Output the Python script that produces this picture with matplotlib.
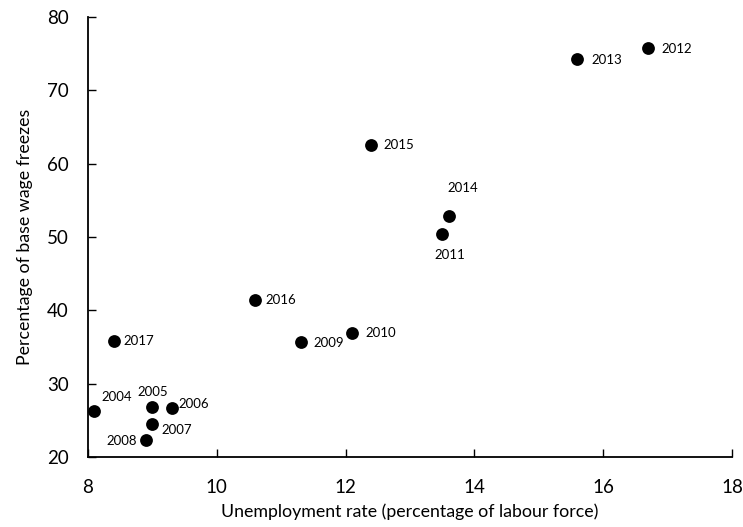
import matplotlib
matplotlib.use("Agg")
import matplotlib.pyplot as plt

years = ["2004", "2005", "2006", "2007", "2008", "2009", "2010", "2011",
         "2012", "2013", "2014", "2015", "2016", "2017"]
unemployment = [8.1, 9.0, 9.3, 9.0, 8.9, 11.3, 12.1, 13.5,
                16.7, 15.6, 13.6, 12.4, 10.6, 8.4]
wage_freezes = [26.3, 26.8, 26.7, 24.5, 22.3, 35.7, 36.9, 50.4,
                75.8, 74.3, 52.9, 62.6, 41.4, 35.8]

# label offsets in pixels (dx, dy, ha)
offsets = {
    "2004": (7, 14, "left"),
    "2005": (0, 15, "center"),
    "2006": (7, 4, "left"),
    "2007": (9, -6, "left"),
    "2008": (-9, -1, "right"),
    "2009": (13, -1, "left"),
    "2010": (13, 0, "left"),
    "2011": (8, -21, "center"),
    "2012": (13, -1, "left"),
    "2013": (14, -1, "left"),
    "2014": (14, 28, "center"),
    "2015": (12, 0, "left"),
    "2016": (10, 0, "left"),
    "2017": (10, 0, "left"),
}

plt.rcParams['font.family'] = ['Lato', 'DejaVu Sans']

fig = plt.figure(figsize=(7.43, 5.27), dpi=100)
ax = fig.add_axes([88/743, 1-457/527, (732-88)/743, (457-17)/527])

ax.scatter(unemployment, wage_freezes, s=85, color="black", zorder=3, linewidths=0)
for yr, x, y in zip(years, unemployment, wage_freezes):
    dx, dy, ha = offsets[yr]
    ax.annotate(yr, (x, y), xytext=(dx, dy), textcoords="offset pixels",
                ha=ha, va="center", fontsize=9.5)

ax.set_xlim(8, 18)
ax.set_ylim(20, 80)
ax.set_xticks([8, 10, 12, 14, 16, 18])
ax.set_yticks([20, 30, 40, 50, 60, 70, 80])
ax.spines["top"].set_visible(False)
ax.spines["right"].set_visible(False)
for s in ["left", "bottom"]:
    ax.spines[s].set_linewidth(1.3)
ax.tick_params(direction="in", length=6, width=1, labelsize=13.5)
ax.tick_params(axis="x", pad=16)
ax.tick_params(axis="y", pad=14)
ax.set_xlabel("Unemployment rate (percentage of labour force)", fontsize=12.8, labelpad=5)
ax.set_ylabel("Percentage of base wage freezes", fontsize=12.8, labelpad=10)

fig.savefig("out.png", dpi=100)
